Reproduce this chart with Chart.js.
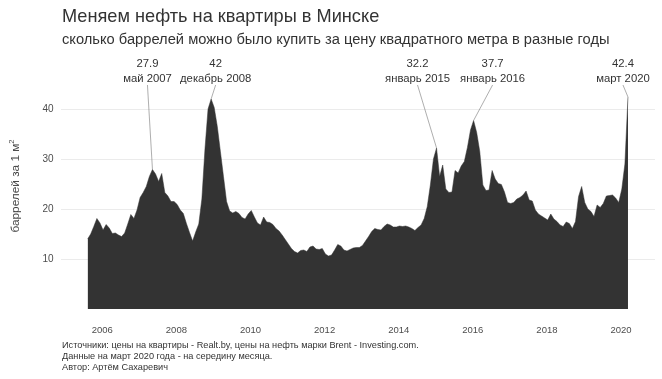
<!DOCTYPE html>
<html>
<head>
<meta charset="utf-8">
<script src="https://cdn.jsdelivr.net/npm/chart.js@4.4.1/dist/chart.umd.min.js"></script>
<style>
  body { margin: 0; background: #fff; }
  #wrap { position: relative; width: 662px; height: 379px; overflow: hidden; font-family: "Liberation Sans", Arial, sans-serif; color: #333; }
  #c { position: absolute; left: 0; top: 0; }
  .title { position: absolute; left: 62px; top: 6px; font-size: 18.2px; color: #333; white-space: nowrap; }
  .subtitle { position: absolute; left: 62px; top: 31px; font-size: 14.7px; color: #333; white-space: nowrap; }
  .ytitle { position: absolute; left: -45px; top: 179px; width: 120px; height: 14px; line-height: 14px; text-align: center;
            font-size: 11.8px; font-weight: normal; color: #444; white-space: nowrap; transform: rotate(-90deg); }
  .ytitle sup { font-size: 7.5px; line-height: 0; }
  .caption { position: absolute; left: 62px; top: 340px; font-size: 9.2px; line-height: 11px; color: #333; white-space: nowrap; }
</style>
</head>
<body>
<div id="wrap">
  <canvas id="c" width="662" height="379"></canvas>
  <div class="title">Меняем нефть на квартиры в Минске</div>
  <div class="subtitle">сколько баррелей можно было купить за цену квадратного метра в разные годы</div>
  <div class="ytitle">баррелей за 1 м<sup>2</sup></div>
  <div class="caption">Источники: цены на квартиры - Realt.by, цены на нефть марки Brent - Investing.com.<br>Данные на март 2020 года - на середину месяца.<br>Автор: Артём Сахаревич</div>
</div>
<script>
// monthly series, starting August 2005
const startYear = 2005;
const startMonth = 8;
const barrels = [
  14.0, 15.0, 16.5, 18.1, 17.2,
  15.8, 16.9, 16.2, 15.1, 15.2, 14.8, 14.5, 15.2, 17.0, 18.9, 18.1, 19.8,
  22.3, 23.3, 24.5, 26.5, 27.9, 27.0, 25.5, 27.1, 23.3, 22.6, 21.5, 21.5,
  20.9, 19.8, 19.1, 17.1, 15.3, 13.6, 15.4, 17.0, 22.0, 32.0, 40.0, 42.0,
  40.3, 36.5, 31.5, 26.5, 21.5, 19.6, 19.2, 19.5, 19.1, 18.3, 18.0, 19.0,
  19.7, 18.4, 17.2, 16.8, 18.4, 17.4, 17.3, 16.9, 16.1, 15.6, 14.8, 13.9,
  13.0, 12.1, 11.5, 11.2, 11.7, 11.8, 11.5, 12.4, 12.6, 12.0, 11.9, 12.1,
  11.0, 10.6, 10.8, 11.8, 12.9, 12.6, 11.8, 11.6, 11.9, 12.2, 12.3, 12.3,
  12.7, 13.6, 14.5, 15.5, 16.1, 15.9, 15.8, 16.5, 17.0, 16.8, 16.4, 16.4,
  16.6, 16.5, 16.6, 16.4, 16.1, 15.7, 16.3, 16.8, 18.1, 20.5, 24.8, 30.0,
  32.2, 26.5, 28.8, 24.0, 23.3, 23.4, 27.7, 27.2, 28.6, 29.5, 32.3, 35.8,
  37.7, 35.3, 31.5, 24.8, 23.7, 23.8, 27.7, 26.0, 25.1, 24.9, 23.4, 21.3,
  21.1, 21.3, 22.0, 22.3, 22.8, 23.6, 21.8, 21.6, 19.8, 19.0, 18.6, 18.2,
  17.8, 19.0, 18.0, 17.5, 16.8, 16.5, 17.4, 17.1, 16.1, 17.5, 22.5, 24.5,
  21.3, 20.0, 19.5, 18.5, 20.8, 20.3, 21.1, 22.6, 22.7, 22.8, 22.2, 21.3,
  24.0, 29.0, 42.4
];
const yearTicks = [2006, 2008, 2010, 2012, 2014, 2016, 2018, 2020];
const valueTicks = [10, 20, 30, 40];

// labelled peaks
const peakYear = [2007, 2008, 2015, 2016, 2020];
const peakMonth = [5, 12, 1, 1, 3];
const peakNames = ["май 2007", "декабрь 2008", "январь 2015", "январь 2016", "март 2020"];
const peakShift = [-5, 4.5, -19, 19, -5]; // label offset from point, px

const monthShift = 0.25; // points sit a little after month start
const toT = i => startYear + (startMonth - 1 + i + monthShift) / 12;
const points = barrels.map((v, i) => ({ x: toT(i), y: v }));

const tMin = toT(0), tMax = toT(barrels.length - 1);
const tPad = (tMax - tMin) * 0.05;
const vMax = Math.max(...barrels);
const vPad = vMax * 0.05;

const peakLabels = {
  id: "peakLabels",
  afterDatasetsDraw(chart) {
    const ctx = chart.ctx;
    const xs = chart.scales.x, ys = chart.scales.y;
    ctx.save();
    peakYear.forEach((yr, k) => {
      const i = (yr - startYear) * 12 + (peakMonth[k] - startMonth);
      const v = barrels[i];
      const px = xs.getPixelForValue(toT(i));
      const py = ys.getPixelForValue(v);
      const lx = px + peakShift[k];
      ctx.strokeStyle = "#777";
      ctx.lineWidth = 0.6;
      ctx.beginPath();
      ctx.moveTo(lx, 85);
      ctx.lineTo(px, py);
      ctx.stroke();
      ctx.fillStyle = "#333";
      ctx.font = "11.3px 'Liberation Sans', Arial, sans-serif";
      ctx.textAlign = "center";
      ctx.textBaseline = "alphabetic";
      ctx.fillText(String(v), lx, 67);
      ctx.fillText(peakNames[k], lx, 82);
    });
    ctx.restore();
  }
};

new Chart(document.getElementById("c"), {
  type: "line",
  data: {
    datasets: [{
      data: points,
      fill: "origin",
      backgroundColor: "#333333",
      borderColor: "#333333",
      borderWidth: 0.5,
      pointRadius: 0,
      tension: 0
    }]
  },
  options: {
    responsive: false,
    animation: false,
    devicePixelRatio: 1,
    layout: { padding: { top: 86.4, right: 7, left: 0, bottom: 0 } },
    plugins: { legend: { display: false }, tooltip: { enabled: false } },
    scales: {
      x: {
        type: "linear",
        min: tMin - tPad,
        max: tMax + tPad,
        grid: { display: false, drawTicks: false },
        border: { display: false },
        afterBuildTicks: s => { s.ticks = yearTicks.map(v => ({ value: v })); },
        afterFit: s => { s.height = 59.4; },
        ticks: {
          autoSkip: false,
          maxRotation: 0,
          padding: 5,
          color: "#4d4d4d",
          font: { family: "'Liberation Sans', Arial, sans-serif", size: 9.5 },
          callback: v => String(v)
        }
      },
      y: {
        min: -vPad,
        max: vMax + vPad,
        grid: { color: "#ebebeb", lineWidth: 1, drawTicks: false },
        border: { display: false },
        afterBuildTicks: s => { s.ticks = valueTicks.map(v => ({ value: v })); },
        afterFit: s => { s.width = 60.6; },
        ticks: {
          padding: 7,
          color: "#4d4d4d",
          font: { family: "'Liberation Sans', Arial, sans-serif", size: 10 },
          callback: v => String(v)
        }
      }
    }
  },
  plugins: [peakLabels]
});
</script>
</body>
</html>
